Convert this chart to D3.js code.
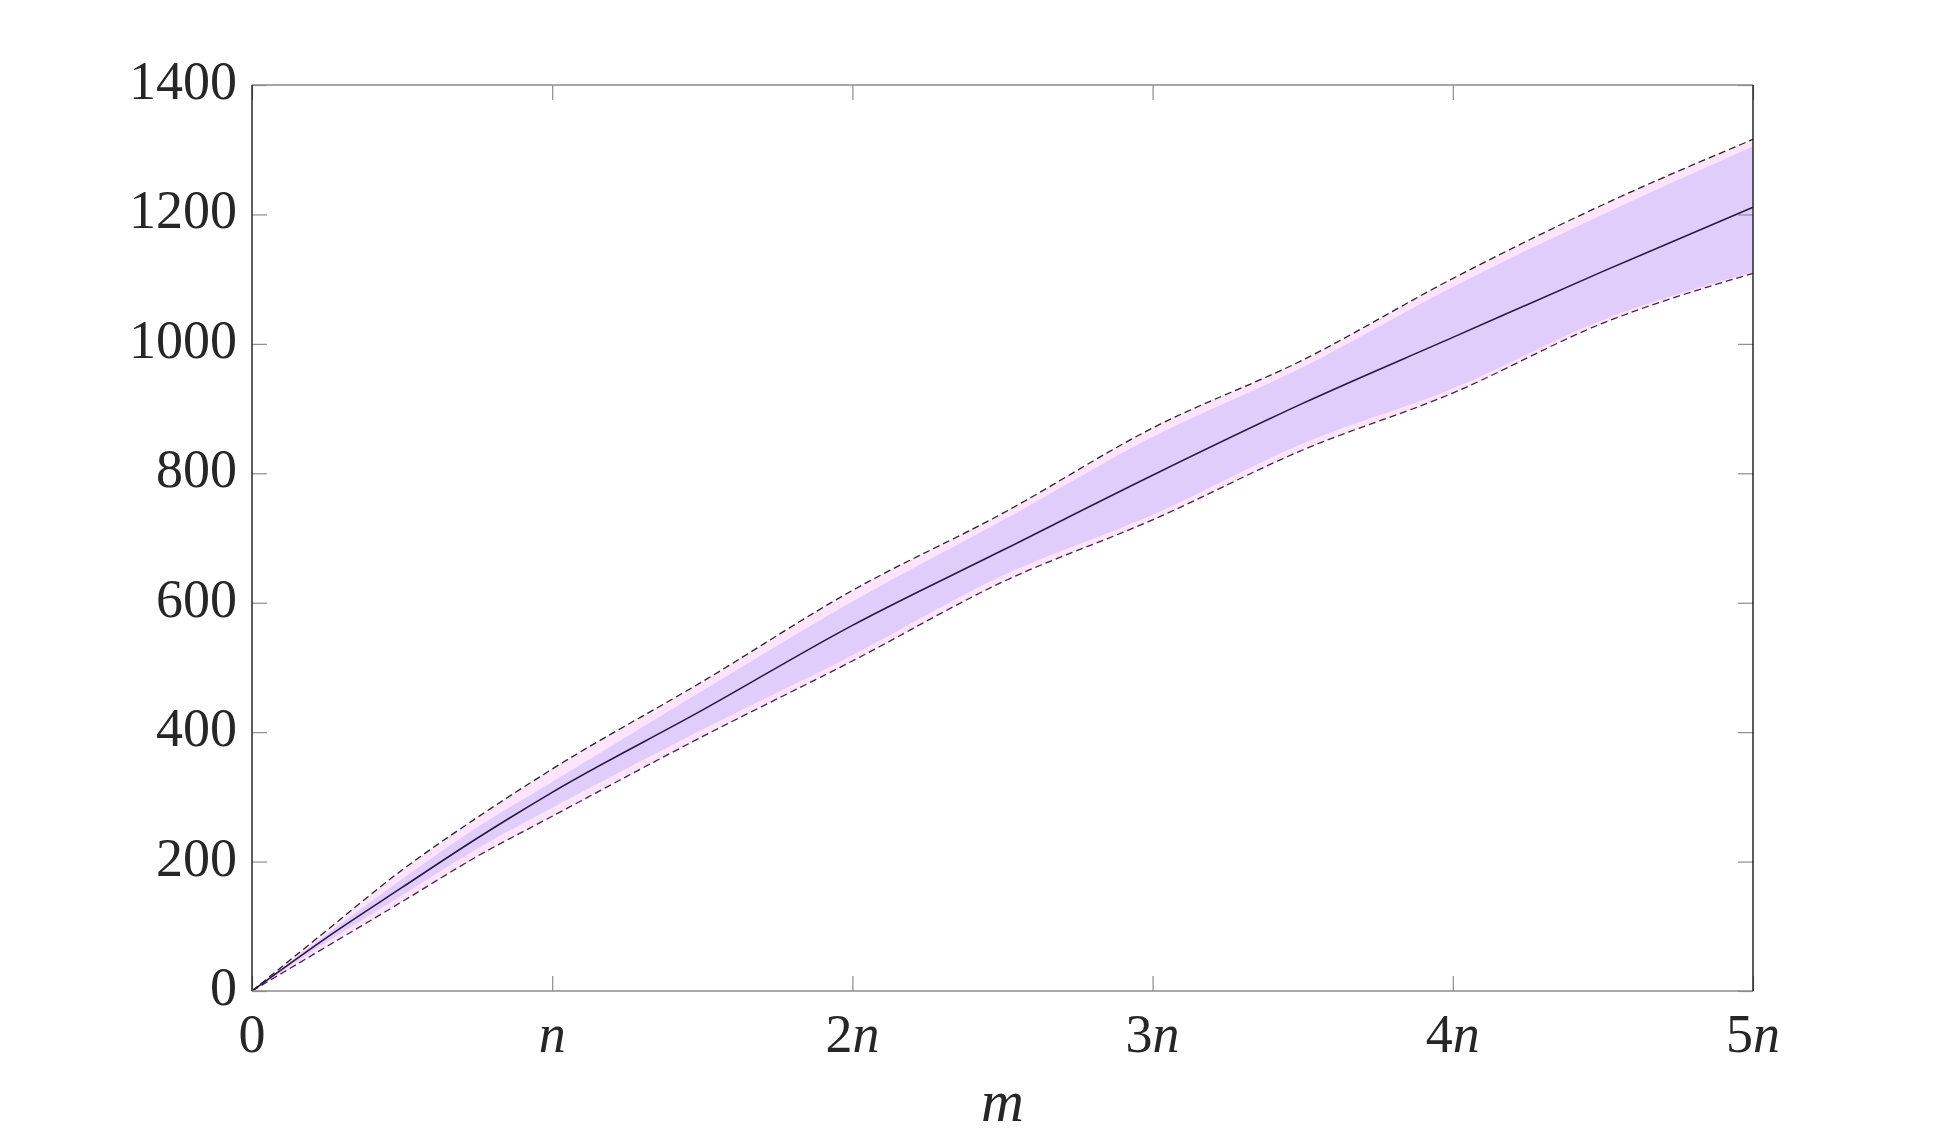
<!DOCTYPE html>
<html>
<head>
<meta charset="utf-8">
<script src="https://cdn.jsdelivr.net/npm/d3@7"></script>
<style>
  html, body { margin: 0; padding: 0; background: #fff; }
  svg { display: block; }
</style>
</head>
<body>
<svg id="chart" width="1937" height="1142"></svg>
<script>
// x positions in units of n
const xs       = [0, 0.25, 0.5, 0.75, 1, 1.5, 2, 2.5, 3, 3.5, 4, 4.5, 5];
// mean curve
const meanV    = [0, 83, 160, 236, 307, 434, 565, 681, 797, 908, 1010, 1112, 1211];
// inner (lavender) band
const innerHi  = [0, 88, 173, 253, 323, 464, 602, 727, 856, 964, 1088, 1200, 1305];
const innerLo  = [0, 76, 148, 220, 283, 404, 519, 642, 736, 846, 931, 1037, 1111];
// outer band / dashed extremes
const maxV     = [0, 94, 187, 268, 343, 478, 619, 738, 870, 975, 1101, 1215, 1316];
const minV     = [0, 69, 138, 208, 270, 393, 510, 632, 728, 836, 924, 1032, 1109];
// tick labels
const xTicks   = [0, 1, 2, 3, 4, 5];
const xTickLbl = ["0", "n", "2n", "3n", "4n", "5n"];
const yTicks   = [0, 200, 400, 600, 800, 1000, 1200, 1400];
const xLabel   = "m";

// pick an installed serif font
const ctx = document.createElement("canvas").getContext("2d");
function w(f) { ctx.font = "100px " + f; return ctx.measureText("1400 mnab").width; }
const wMono = w("monospace"), wSans = w("sans-serif");
const cands = ["'Liberation Serif'", "'Times New Roman'", "Tinos", "'DejaVu Serif'", "'Noto Serif'"];
let FONT = "serif";
for (const c of cands) {
  const a = w(c + ", monospace"), b = w(c + ", sans-serif");
  if (Math.abs(a - b) < 0.01) { FONT = c; break; }
}
ctx.font = "100px " + FONT;
const perPx = ctx.measureText("1400").width / 100;
const FS = Math.round(108 / perPx);

const svg = d3.select("#chart");
const L = 252, R = 1753, T = 85, B = 991;
const x = d3.scaleLinear().domain([0, 5]).range([L, R]);
const y = d3.scaleLinear().domain([0, 1400]).range([B, T]);

const data = xs.map((v, i) => ({x: v, m: meanV[i], ih: innerHi[i], il: innerLo[i], mx: maxV[i], mn: minV[i]}));
const cv = d3.curveMonotoneX;

// outer band
svg.append("path").datum(data)
  .attr("d", d3.area().curve(cv).x(d => x(d.x)).y0(d => y(d.mn)).y1(d => y(d.mx)))
  .attr("fill", "#fce4fb");
// inner band
svg.append("path").datum(data)
  .attr("d", d3.area().curve(cv).x(d => x(d.x)).y0(d => y(d.il)).y1(d => y(d.ih)))
  .attr("fill", "#e1cdfb");
// dashed extremes
svg.append("path").datum(data)
  .attr("d", d3.line().curve(cv).x(d => x(d.x)).y(d => y(d.mx)))
  .attr("fill", "none").attr("stroke", "#262626").attr("stroke-width", 1.3).attr("stroke-dasharray", "7,4");
svg.append("path").datum(data)
  .attr("d", d3.line().curve(cv).x(d => x(d.x)).y(d => y(d.mn)))
  .attr("fill", "none").attr("stroke", "#4a1f52").attr("stroke-width", 1.3).attr("stroke-dasharray", "7,4");
// mean
svg.append("path").datum(data)
  .attr("d", d3.line().curve(cv).x(d => x(d.x)).y(d => y(d.m)))
  .attr("fill", "none").attr("stroke", "#2a1840").attr("stroke-width", 1.6);

// axes (d3 axis used for tick positions, drawn inward)
const tickCol = "#8c8c8c";
function styleAxis(g) {
  g.select(".domain").remove();
  g.selectAll(".tick line").attr("stroke", tickCol).attr("stroke-width", 1.2);
  g.selectAll(".tick text").remove();
}
svg.append("g").attr("transform", `translate(0,${B})`)
  .call(d3.axisTop(x).tickValues(xTicks).tickSize(15)).call(styleAxis);
svg.append("g").attr("transform", `translate(0,${T})`)
  .call(d3.axisBottom(x).tickValues(xTicks).tickSize(15)).call(styleAxis);
svg.append("g").attr("transform", `translate(${L},0)`)
  .call(d3.axisRight(y).tickValues(yTicks).tickSize(15)).call(styleAxis);
svg.append("g").attr("transform", `translate(${R},0)`)
  .call(d3.axisLeft(y).tickValues(yTicks).tickSize(15)).call(styleAxis);

// frame
svg.append("line").attr("x1", L).attr("x2", R).attr("y1", T).attr("y2", T).attr("stroke", tickCol).attr("stroke-width", 1.5);
svg.append("line").attr("x1", L).attr("x2", R).attr("y1", B).attr("y2", B).attr("stroke", tickCol).attr("stroke-width", 1.5);
svg.append("line").attr("x1", L).attr("x2", L).attr("y1", T).attr("y2", B).attr("stroke", "#262626").attr("stroke-width", 1.5);
svg.append("line").attr("x1", R).attr("x2", R).attr("y1", T).attr("y2", B).attr("stroke", "#262626").attr("stroke-width", 1.5);

// y tick labels
svg.append("g").selectAll("text").data(yTicks).join("text")
  .attr("x", L - 15).attr("y", d => y(d) + 14)
  .attr("text-anchor", "end").attr("font-size", FS)
  .attr("font-family", FONT).attr("fill", "#262626")
  .text(d => d);

// x tick labels
const xl = svg.append("g").selectAll("text").data(xTicks).join("text")
  .attr("x", d => x(d)).attr("y", 1052)
  .attr("text-anchor", "middle").attr("font-size", FS)
  .attr("font-family", FONT).attr("fill", "#262626");
xl.each(function(d, i) {
  const s = xTickLbl[i];
  const t = d3.select(this);
  const m = s.match(/^(\d*)(n?)$/);
  if (m[1]) t.append("tspan").text(m[1]);
  if (m[2]) t.append("tspan").attr("font-style", "italic").text(m[2]);
});

// x label
svg.append("text").attr("x", (L + R) / 2).attr("y", 1121)
  .attr("text-anchor", "middle").attr("font-size", FS * 1.1).attr("font-style", "italic")
  .attr("font-family", FONT).attr("fill", "#262626")
  .text(xLabel);
</script>
</body>
</html>
